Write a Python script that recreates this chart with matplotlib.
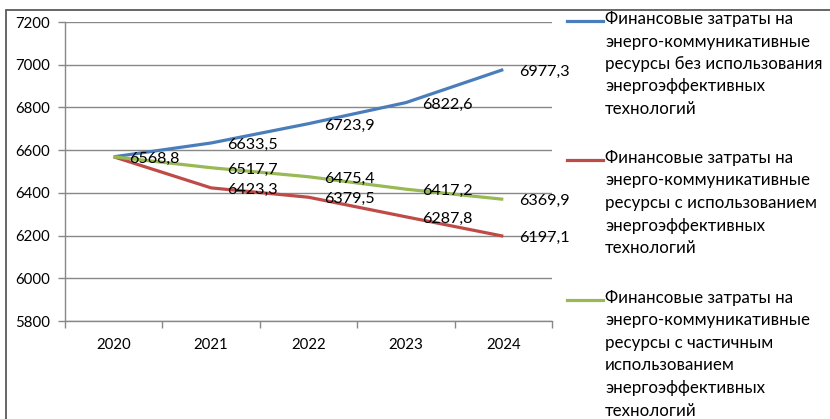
import matplotlib
matplotlib.use('Agg')
import matplotlib.pyplot as plt
from matplotlib.lines import Line2D
from matplotlib.patches import Rectangle

plt.rcParams['font.family'] = ['Lato', 'DejaVu Sans']

# Data
years = ['2020', '2021', '2022', '2023', '2024']
no_tech = [6568.8, 6633.5, 6723.9, 6822.6, 6977.3]
with_tech = [6568.8, 6423.3, 6379.5, 6287.8, 6197.1]
partial_tech = [6568.8, 6517.7, 6475.4, 6417.2, 6369.9]
series_names = [
    'Финансовые затраты на\nэнерго-коммуникативные\nресурсы без использования\nэнергоэффективных\nтехнологий',
    'Финансовые затраты на\nэнерго-коммуникативные\nресурсы с использованием\nэнергоэффективных\nтехнологий',
    'Финансовые затраты на\nэнерго-коммуникативные\nресурсы с частичным\nиспользованием\nэнергоэффективных\nтехнологий',
]
colors = ['#4A7EBB', '#BE4B48', '#98B954']

W, H = 830, 419
fig = plt.figure(figsize=(W / 100, H / 100), dpi=100)
ax = fig.add_axes([65 / W, (H - 321) / H, (552 - 65) / W, (321 - 22) / H])

x = list(range(len(years)))
grid_c = '#888888'
fs = 10.8
lab_fs = 11.6
leg_fs = 12.2

for vals, c in zip([no_tech, with_tech, partial_tech], colors):
    ax.plot(x, vals, color=c, lw=2.3, solid_capstyle='butt', zorder=3)

# data labels (right of point); first point shared, labelled once
ax.annotate('6568,8', (0, no_tech[0]), xytext=(15, -2), textcoords='offset pixels',
            va='center', ha='left', fontsize=lab_fs, zorder=4)
for vals in [no_tech, with_tech, partial_tech]:
    for i in range(1, len(vals)):
        lab = f'{vals[i]:.1f}'.replace('.', ',')
        ax.annotate(lab, (i, vals[i]), xytext=(16, -2), textcoords='offset pixels',
                    va='center', ha='left', fontsize=lab_fs, zorder=4)

ax.set_xlim(-0.5, 4.5)
ax.set_ylim(5800, 7200)
ax.set_yticks(range(5800, 7201, 200))
ax.set_xticks(x)
ax.set_xticklabels(years)
ax.set_xticks([i - 0.5 for i in range(len(years) + 1)], minor=True)
ax.tick_params(axis='x', which='major', length=0, pad=12, labelsize=fs)
ax.tick_params(axis='x', which='minor', length=5, color=grid_c, width=1)
ax.tick_params(axis='y', length=5, color=grid_c, width=1, pad=6, labelsize=fs)
ax.grid(axis='y', color=grid_c, lw=1)
ax.set_axisbelow(True)
for s in ['top', 'right']:
    ax.spines[s].set_visible(False)
for s in ['left', 'bottom']:
    ax.spines[s].set_color(grid_c)
    ax.spines[s].set_linewidth(1)

# legend, drawn by hand to match the layout
leg_y = [21, 160, 300]
for name, c, y in zip(series_names, colors, leg_y):
    fig.add_artist(Line2D([567 / W, 603 / W], [(H - y) / H] * 2, color=c, lw=2.3))
    fig.text(605 / W, (H - y + 10) / H, name, fontsize=leg_fs, va='top', ha='left',
             linespacing=1.5)

# outer chart frame (cropped on right and bottom)
fig.add_artist(Rectangle((6 / W, -0.1), 2, (H - 10) / H + 0.1, transform=fig.transFigure,
                         fill=False, ec='#5a5a5a', lw=1.3))

fig.savefig('out.png', dpi=100)
